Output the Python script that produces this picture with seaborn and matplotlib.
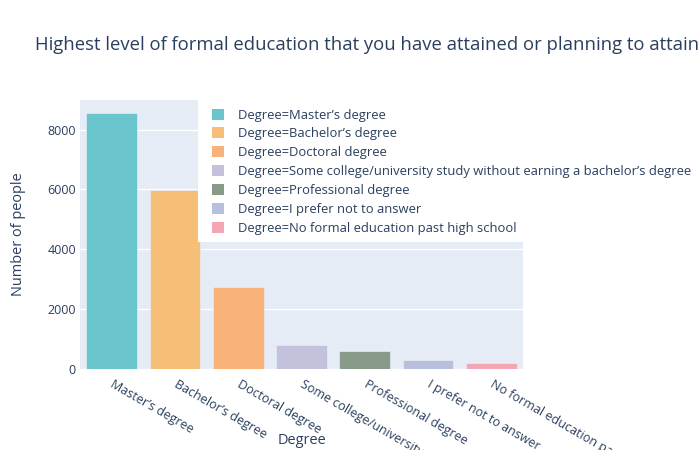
import matplotlib
matplotlib.use("Agg")
import matplotlib.pyplot as plt
from matplotlib.patches import Patch, Rectangle
import seaborn as sns
import pandas as pd

# ---- data ----
degrees = [
    "Master’s degree",
    "Bachelor’s degree",
    "Doctoral degree",
    "Some college/university study without earning a bachelor’s degree",
    "Professional degree",
    "I prefer not to answer",
    "No formal education past high school",
]
counts = [8540, 5980, 2740, 815, 590, 312, 211]
colors = ["#6AC5CC", "#F6BE76", "#F8B27A", "#C4C1DD", "#8A9A88", "#B8BFDC", "#F3A6B2"]

title = "Highest level of formal education that you have attained or planning to attain"
xlabel = "Degree"
ylabel = "Number of people"
yticks = [0, 2000, 4000, 6000, 8000]

df = pd.DataFrame({"Degree": degrees, "count": counts})

FONT = ["Open Sans", "DejaVu Sans"]
TXT = "#2a3f5f"
PX = 0.72  # points per pixel at dpi 100

sns.set_theme(style="white")
plt.rcParams["font.family"] = FONT

W, H = 700, 450
fig = plt.figure(figsize=(W / 100, H / 100), dpi=100)
fig.patch.set_facecolor("white")

L, R, T, B = 80, 523, 100, 369
ax = fig.add_axes([L / W, 1 - B / H, (R - L) / W, (B - T) / H])
ax.set_facecolor("#E5ECF6")

sns.barplot(data=df, x="Degree", y="count", hue="Degree", palette=colors,
            order=degrees, hue_order=degrees, saturation=1, width=0.8,
            dodge=False, legend=False, ax=ax, zorder=3,
            edgecolor="#E5ECF6", linewidth=0.5)

ax.set_ylim(0, 8990)
ax.set_xlim(-0.5, len(degrees) - 0.5)
ax.set_yticks(yticks)
ax.set_yticklabels([str(v) for v in yticks])
ax.yaxis.grid(True, color="white", linewidth=1, zorder=0)
ax.set_axisbelow(True)
for s in ax.spines.values():
    s.set_visible(False)
ax.tick_params(axis="both", length=0, colors=TXT, labelsize=12.5 * PX)
ax.tick_params(axis="y", pad=3)
ax.set_xlabel("")
ax.set_ylabel("")

ax.set_xticks(range(len(degrees)))
ax.set_xticklabels(degrees, rotation=-30, ha="left", va="center",
                   rotation_mode="anchor", color=TXT, fontsize=12.5 * PX)
ax.tick_params(axis="x", pad=10)

# titles
fig.text(35 / W, 1 - 45 / H, title, ha="left", va="center",
         fontsize=18.5 * PX, color=TXT)
fig.text(302 / W, 1 - 440 / H, xlabel, ha="center", va="center",
         fontsize=14.5 * PX, color=TXT)
fig.text(19 / W, 1 - 234.5 / H, ylabel, ha="center", va="center",
         rotation=90, fontsize=14.5 * PX, color=TXT)

# legend background box
fig.patches.append(Rectangle((198 / W, 1 - 242 / H), (W - 198) / W, 142 / H,
                             transform=fig.transFigure, facecolor="white",
                             edgecolor="none", zorder=4))

# legend
LF = 13
handles = [Patch(facecolor=c, edgecolor="none", label=f"Degree={d}")
           for d, c in zip(degrees, colors)]
leg = fig.legend(handles=handles, loc="upper left",
                 bbox_to_anchor=(212 / W, 1 - 108.5 / H),
                 frameon=False, fontsize=LF * PX,
                 handlelength=12 / LF, handleheight=12 / LF,
                 handletextpad=14 / LF, labelspacing=0.45, borderpad=0,
                 borderaxespad=0)
leg.set_zorder(5)
for t in leg.get_texts():
    t.set_color(TXT)

fig.savefig("out.png", dpi=100, facecolor="white")
